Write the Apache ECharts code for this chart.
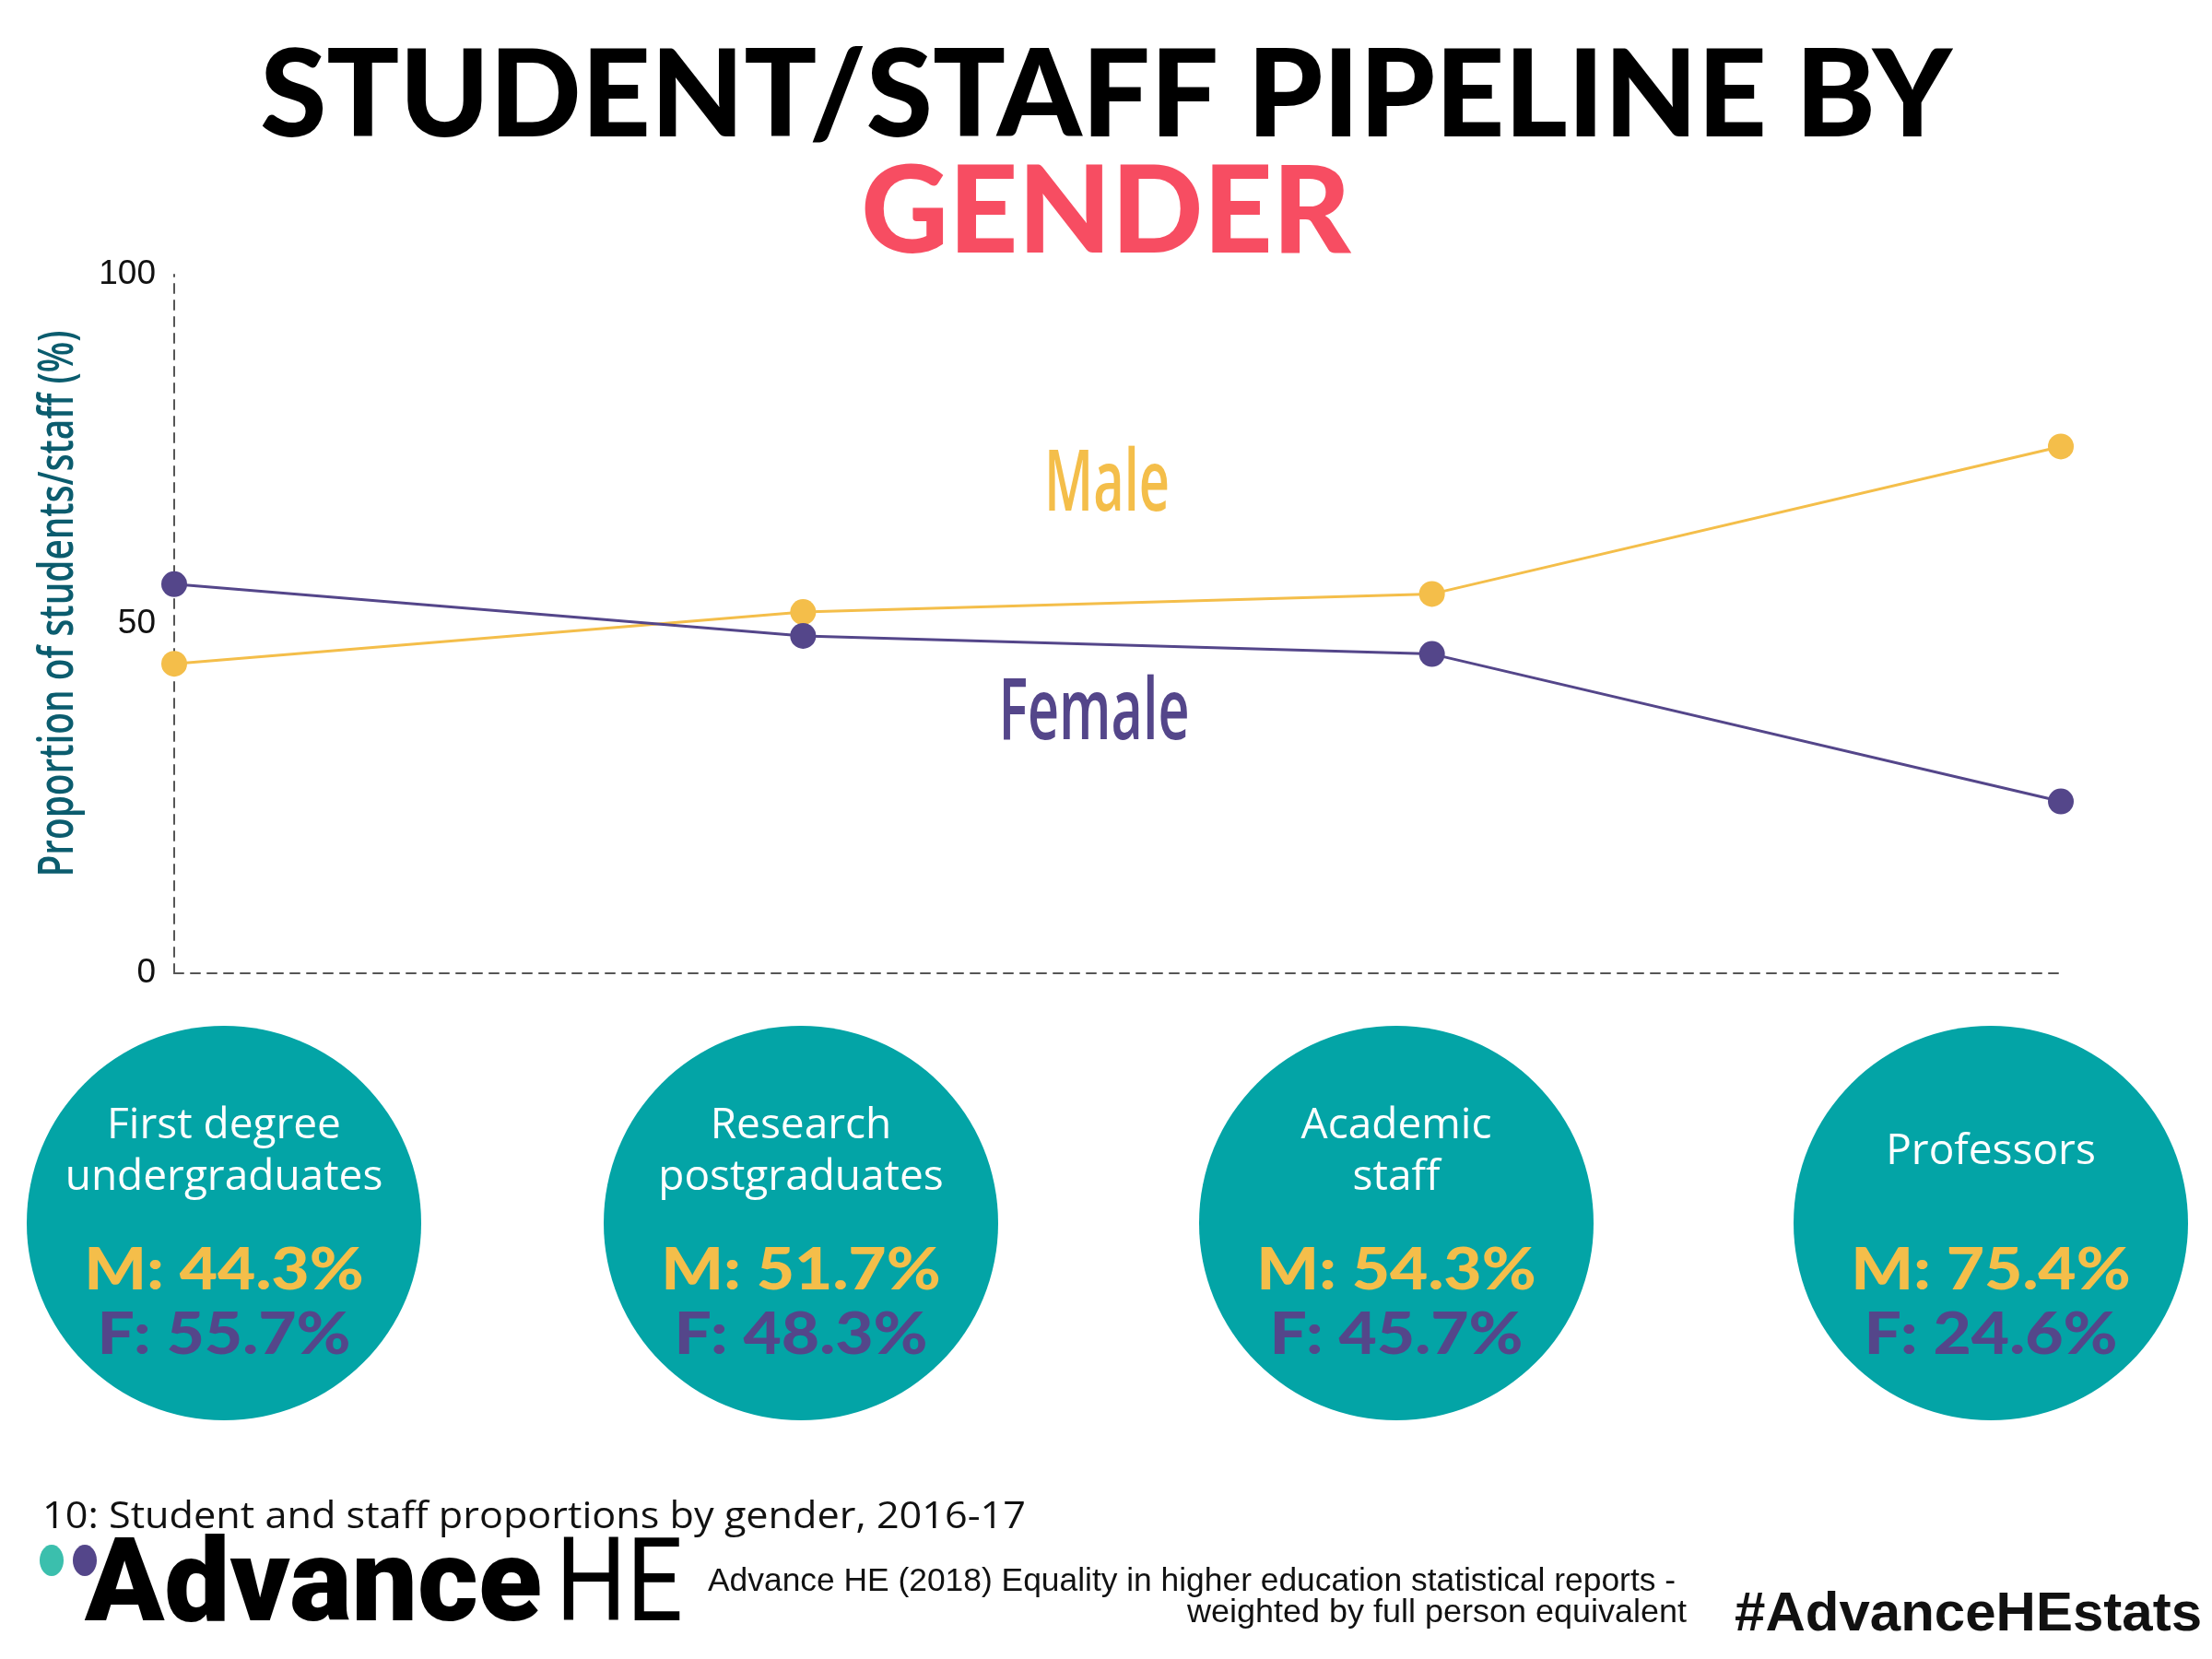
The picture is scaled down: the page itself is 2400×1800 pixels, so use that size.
<!DOCTYPE html>
<html>
<head>
<meta charset="utf-8">
<script src="https://cdn.jsdelivr.net/npm/echarts@6/dist/echarts.min.js"></script>
<style>html,body{margin:0;padding:0;background:#fff}#c{width:2400px;height:1800px}</style>
</head>
<body>
<div id="c"></div>
<script>
var categories = ['First degree\nundergraduates', 'Research\npostgraduates', 'Academic\nstaff', 'Professors'];
var maleValues = [44.3, 51.7, 54.3, 75.4];
var femaleValues = [55.7, 48.3, 45.7, 24.6];
var yTicks = [0, 50, 100];
var yAxisTitle = 'Proportion of students/staff (%)';

var MALE = '#f4be4a', FEMALE = '#54468a', TEAL = '#03a4a6';
var circleX = [243, 869, 1515, 2160];
var circleY = 1327, circleR = 214;

var ctx = document.createElement('canvas').getContext('2d');
function fitScale(text, font, target){ ctx.font = font; return target / ctx.measureText(text).width; }

var condFont = '600 92px "Open Sans"';
var axisNameFont = '600 52px "Open Sans"';
var footFont = '40px "Open Sans"';
var srcFont = '35px "Liberation Sans"';
var advFont = '900 126px Roboto';
var heFont = '400 126px Roboto';

var chart = echarts.init(document.getElementById('c'));

var graphics = [
  {type:'text', left:'center', top:40, style:{text:'STUDENT/STAFF PIPELINE BY', font:'900 131px Lato', fill:'#000'}},
  {type:'text', left:'center', top:166, style:{text:'GENDER', font:'900 131px Lato', fill:'#f74d62'}},
  {type:'text', x:1201, y:528, scaleX:fitScale('Male', condFont, 136), style:{text:'Male', font:condFont, fill:MALE, align:'center', verticalAlign:'middle'}},
  {type:'text', x:1187, y:776, scaleX:fitScale('Female', condFont, 207), style:{text:'Female', font:condFont, fill:FEMALE, align:'center', verticalAlign:'middle'}},
  {type:'text', x:64, y:655, rotation:Math.PI/2, scaleX:fitScale(yAxisTitle, axisNameFont, 593), style:{text:yAxisTitle, font:axisNameFont, fill:'#0b5c6e', align:'center', verticalAlign:'middle'}},
  {type:'text', x:46, y:1647, scaleX:fitScale('10: Student and staff proportions by gender, 2016-17', footFont, 1067), style:{text:'10: Student and staff proportions by gender, 2016-17', font:footFont, fill:'#111', verticalAlign:'middle'}},
  {type:'ellipse', shape:{cx:92, cy:1693, rx:13, ry:17}, style:{fill:FEMALE}},
  {type:'ellipse', shape:{cx:56, cy:1693, rx:13, ry:17}, style:{fill:'#3bbfad'}},
  {type:'text', x:92, y:1726, scaleX:fitScale('Advance', advFont, 496), style:{text:'Advance', font:advFont, fill:'#000', verticalAlign:'middle'}},
  {type:'text', x:603, y:1726, scaleX:fitScale('HE', heFont, 138), style:{text:'HE', font:heFont, fill:'#000', verticalAlign:'middle'}},
  {type:'text', x:1818, y:1716, scaleX:fitScale('Advance HE (2018) Equality in higher education statistical reports -', srcFont, 1050), style:{text:'Advance HE (2018) Equality in higher education statistical reports -', font:srcFont, fill:'#111', align:'right', verticalAlign:'middle'}},
  {type:'text', x:1830, y:1750, scaleX:fitScale('weighted by full person equivalent', srcFont, 542), style:{text:'weighted by full person equivalent', font:srcFont, fill:'#111', align:'right', verticalAlign:'middle'}},
  {type:'text', x:2389, y:1752, style:{text:'#AdvanceHEstats', font:'bold 60px "Liberation Sans"', fill:'#111', align:'right', verticalAlign:'middle'}}
];

categories.forEach(function(cat, i){
  var cx = circleX[i];
  graphics.push({type:'circle', shape:{cx:cx, cy:circleY, r:circleR}, style:{fill:TEAL}});
  graphics.push({type:'text', x:cx, y:1250, style:{text:cat, font:'46px "Open Sans"', lineHeight:56, fill:'#fff', align:'center', verticalAlign:'middle'}});
  graphics.push({type:'text', x:cx, y:1379, scaleX:1.15, style:{text:'M: ' + maleValues[i].toFixed(1) + '%', font:'900 62px Lato', fill:MALE, align:'center', verticalAlign:'middle'}});
  graphics.push({type:'text', x:cx, y:1449, scaleX:1.15, style:{text:'F: ' + femaleValues[i].toFixed(1) + '%', font:'900 62px Lato', fill:FEMALE, align:'center', verticalAlign:'middle'}});
});

chart.setOption({
  backgroundColor:'#fff',
  animation:false,
  grid:{left:189, right:164, top:298, bottom:744, containLabel:false},
  xAxis:{type:'category', data:categories, boundaryGap:false,
    axisLine:{show:true, lineStyle:{color:'#555', width:2, type:[10,8]}},
    axisTick:{show:false}, axisLabel:{show:false}, splitLine:{show:false}},
  yAxis:{type:'value', min:0, max:100, interval:50,
    axisLine:{show:true, lineStyle:{color:'#555', width:2, type:[10,8]}},
    axisTick:{show:false}, splitLine:{show:false},
    axisLabel:{fontFamily:'"Liberation Sans", Arial', fontSize:37, color:'#111', margin:20,
      formatter:function(v){return yTicks.indexOf(v) >= 0 ? String(v) : '';}}},
  series:[
    {name:'Male', type:'line', data:maleValues, symbol:'circle', symbolSize:28,
      lineStyle:{color:MALE, width:3}, itemStyle:{color:MALE}, z:3},
    {name:'Female', type:'line', data:femaleValues, symbol:'circle', symbolSize:28,
      lineStyle:{color:FEMALE, width:3}, itemStyle:{color:FEMALE}, z:3}
  ],
  graphic:graphics
});
</script>
</body>
</html>
